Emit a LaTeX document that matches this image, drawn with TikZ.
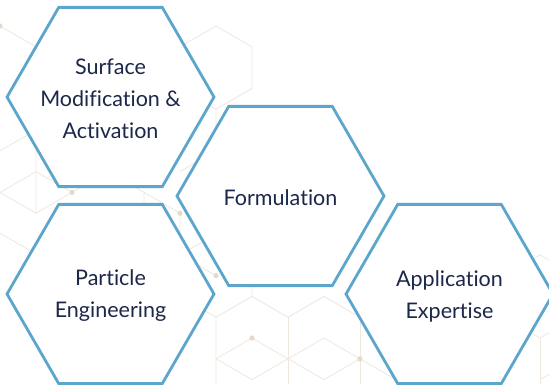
\documentclass[tikz,border=0pt]{standalone}
\usepackage{fontspec}
\setmainfont{Lato}[Ligatures=NoCommon]
\usetikzlibrary{shapes.geometric}

\definecolor{hexblue}{RGB}{92,166,206}
\definecolor{inkblue}{RGB}{28,40,74}
\definecolor{gridcol}{RGB}{238,232,222}
\definecolor{dotcol}{RGB}{228,217,204}

\tikzset{
  hexcell/.style={regular polygon, regular polygon sides=6, minimum size=207pt,
                  inner sep=0pt, draw=hexblue, line width=2.8pt, fill=white},
  hextext/.style={text=inkblue, align=center, inner sep=0pt, yshift=-2pt,
                  font=\fontsize{21.5}{32}\selectfont},
  gridline/.style={gridcol, line width=0.8pt},
  griddot/.style={dotcol}
}

\begin{document}
\begin{tikzpicture}[x=1pt, y=-1pt]

\clip (0, 0) rectangle (549, 384);
\fill[white] (0, 0) rectangle (549, 384);

% draw the faint background grid
\draw[gridline] (180, 46.8) -- (216, 26) -- (252, 46.8) -- (252, 88.4) --
                (216, 109.2) -- (180, 88.4) -- cycle;
\draw[gridline] (216, 109.2) -- (216, 150.8) -- (180, 171.6);
\draw[gridline] (0, 26) -- (36, 46.8);
\draw[gridline] (0, 150.8) -- (36, 130) -- (36, 213.2);
\draw[gridline] (0, 192.4) -- (36, 171.6) -- (72, 192.4) -- (36, 213.2) --
                cycle;
\draw[gridline] (72, 192.4) -- (108, 171.6) -- (144, 192.4) -- (144, 234);
\draw[gridline] (0, 233.2) -- (36, 254);
\draw[gridline] (144, 192.4) -- (180, 213.2) -- (180, 254.8) -- (216, 234);
\draw[gridline] (180, 254.8) -- (216, 275.6);
\draw[gridline] (180, 296.4) -- (216, 317.2);
\draw[gridline] (252, 254.8) -- (252, 296.4) -- (216, 317.2) -- (216, 384);
\draw[gridline] (252, 296.4) -- (288, 317.2) -- (324, 296.4) -- (360, 317.2);
\draw[gridline] (288, 317.2) -- (288, 384);
\draw[gridline] (360, 317.2) -- (360, 384);
\draw[gridline] (216, 358.8) -- (252, 338) -- (288, 358.8) -- (252, 379.6) --
                cycle;
\draw[gridline] (288, 358.8) -- (324, 338) -- (360, 358.8) -- (324, 379.6) --
                cycle;
\draw[gridline] (360, 358.8) -- (396, 379.6);
\draw[gridline] (504, 275.6) -- (540, 254.8) -- (576, 275.6);
\draw[gridline] (504, 317.2) -- (540, 338) -- (576, 317.2);
\draw[gridline] (540, 338) -- (540, 384);
\draw[gridline] (540, 379.6) -- (576, 358.8);

% draw the dots on the grid
\fill[griddot] (0, 26) circle (2.6);
\fill[griddot] (72, 192.4) circle (2.6);
\fill[griddot] (180, 213.2) circle (2.6);
\fill[griddot] (216, 275.6) circle (2.6);
\fill[griddot] (252, 338) circle (2.6);
\fill[griddot] (360, 358.8) circle (2.6);

% draw the four hexagons
\node[hexcell] (surf) at (110.5, 97) {};
\node[hexcell] (form) at (280.5, 196) {};
\node[hexcell] (part) at (110.5, 294) {};
\node[hexcell] (appl) at (449.5, 294) {};

% put the labels in them
\node[hextext] (surftext) at (surf) {Surface\\Modification \&\\Activation};
\node[hextext] (formtext) at (form) {Formulation};
\node[hextext] (parttext) at (part) {Particle\\Engineering};
\node[hextext] (appltext) at (appl) {Application\\Expertise};

\end{tikzpicture}
\end{document}
